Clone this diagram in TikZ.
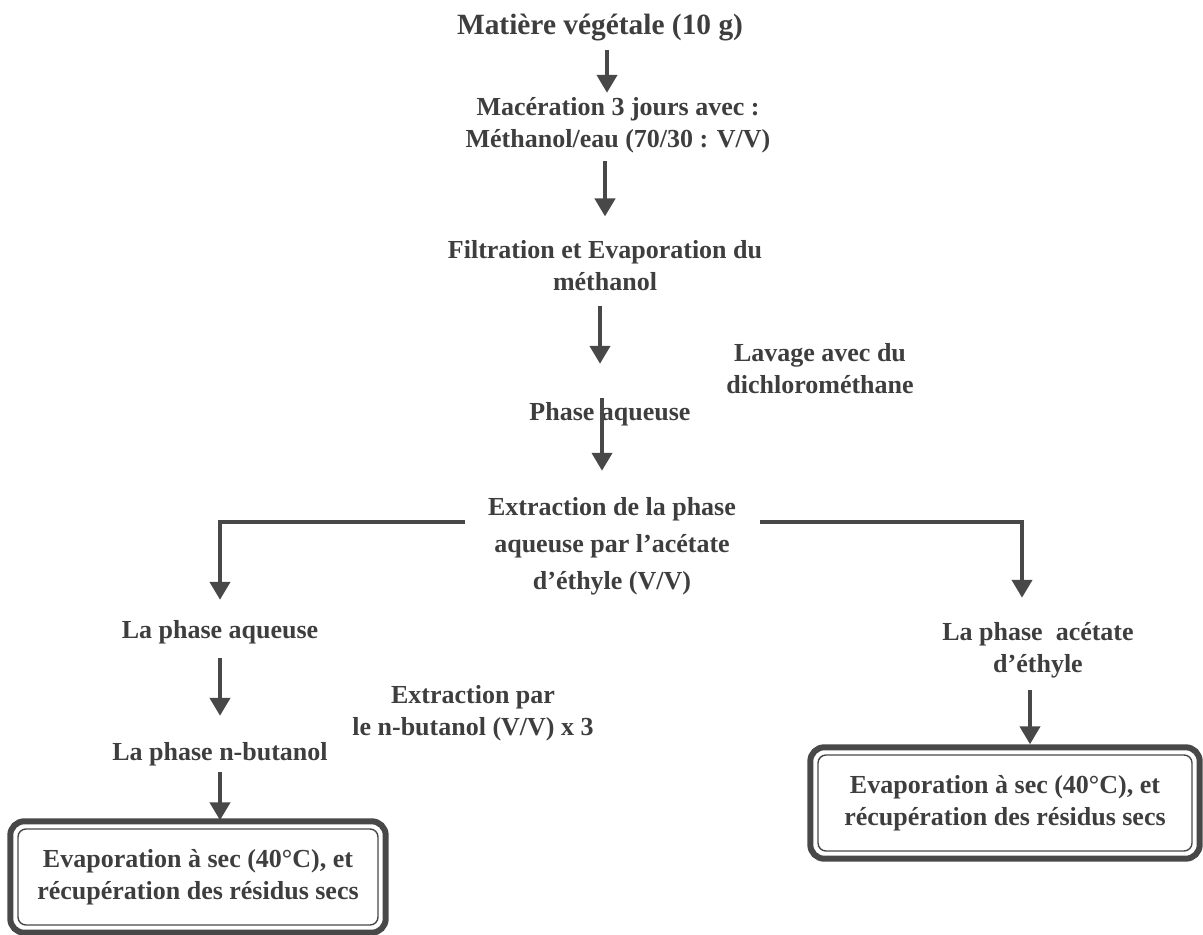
\documentclass[tikz,border=0pt]{standalone}
\usepackage{fontspec}
\setmainfont{Liberation Serif}
\usetikzlibrary{arrows.meta}
\definecolor{ink}{RGB}{62,62,62}
\definecolor{linegray}{RGB}{72,72,72}
\begin{document}
\begin{tikzpicture}[x=0.5pt, y=-0.5pt,
  flow/.style={draw=linegray, line width=2.1pt, -{Triangle[width=10pt,length=9pt]}},
  txt/.style={text=ink, font=\fontsize{13}{16}\selectfont\bfseries, align=center, inner sep=1pt},
  resbox/.style={txt, draw=linegray, line width=0.7pt, rounded corners=4pt, minimum height=48pt},
  frame/.style={draw=linegray, line width=3pt, rounded corners=7pt}]
\useasboundingbox (0,0) rectangle (1203,935);

% Main steps
\node[txt, font=\fontsize{14.7}{17}\selectfont\bfseries] (mat) at (600,28) {Matière végétale (10 g)};
\node[txt] (mac) at (618,125) {Macération 3 jours avec :\\Méthanol/eau (70/30 : V/V)};
\node[txt] (fil) at (605,266) {Filtration et Evaporation du\\méthanol};
\node[txt] (lav) at (820,369) {Lavage avec du\\dichlorométhane};
\node[txt] (aq) at (610,414) {Phase aqueuse};
\node[txt] (ext) at (612,546) {Extraction de la phase\\[2.5pt]aqueuse par l'acétate\\[2.5pt]d'éthyle (V/V)};

% Left branch
\node[txt] (paq) at (220,632) {La phase aqueuse};
\node[txt] (but) at (473,713) {Extraction par\\le n-butanol (V/V) x 3};
\node[txt] (pbu) at (220,754) {La phase n-butanol};
\node[resbox, minimum width=180pt] (resl) at (198,877) {Evaporation à sec (40°C), et\\récupération des résidus secs};

% Right branch
\node[txt] (pac) at (1038,650) {La phase~ acétate\\d'éthyle};
\node[resbox, minimum width=187pt] (resr) at (1005,803) {Evaporation à sec (40°C), et\\récupération des résidus secs};

% Outer frames
\draw[frame] ([shift={(-3.5pt,3.5pt)}]resl.north west) rectangle ([shift={(3.5pt,-3.5pt)}]resl.south east);
\draw[frame] ([shift={(-3.5pt,3.5pt)}]resr.north west) rectangle ([shift={(3.5pt,-3.5pt)}]resr.south east);

% Arrows
\draw[flow] ([xshift=3.5pt,yshift=-3pt]mat.south) -- ([xshift=3.5pt,yshift=1pt]mat.south |- mac.north);
\draw[flow] ([yshift=-3pt]mac.south -| fil.north) -- ([yshift=11pt]fil.north);
\draw[flow] ([xshift=-2.5pt,yshift=-6pt]fil.south) -- ([xshift=-2.5pt,yshift=18pt]fil.south |- aq.north);
\draw[flow] ([xshift=-4pt,yshift=1pt]aq.north) -- ([xshift=-4pt,yshift=12pt]aq.north |- ext.north);

\coordinate (brl) at (465,522);
\coordinate (brr) at (760,522);
\draw[flow] (brl) -| ([yshift=9pt]paq.north);
\draw[flow] (brr) -| ([xshift=-8pt,yshift=11pt]pac.north);

\draw[flow] ([yshift=-6pt]paq.south) -- ([yshift=12pt]pbu.north);
\draw[flow] ([yshift=-2pt]pbu.south) -- ([yshift=4pt]resl.north -| pbu.south);
\draw[flow] ([xshift=-4pt,yshift=-5pt]pac.south) -- ([xshift=-4pt,yshift=5pt]resr.north -| pac.south);

\end{tikzpicture}
\end{document}
